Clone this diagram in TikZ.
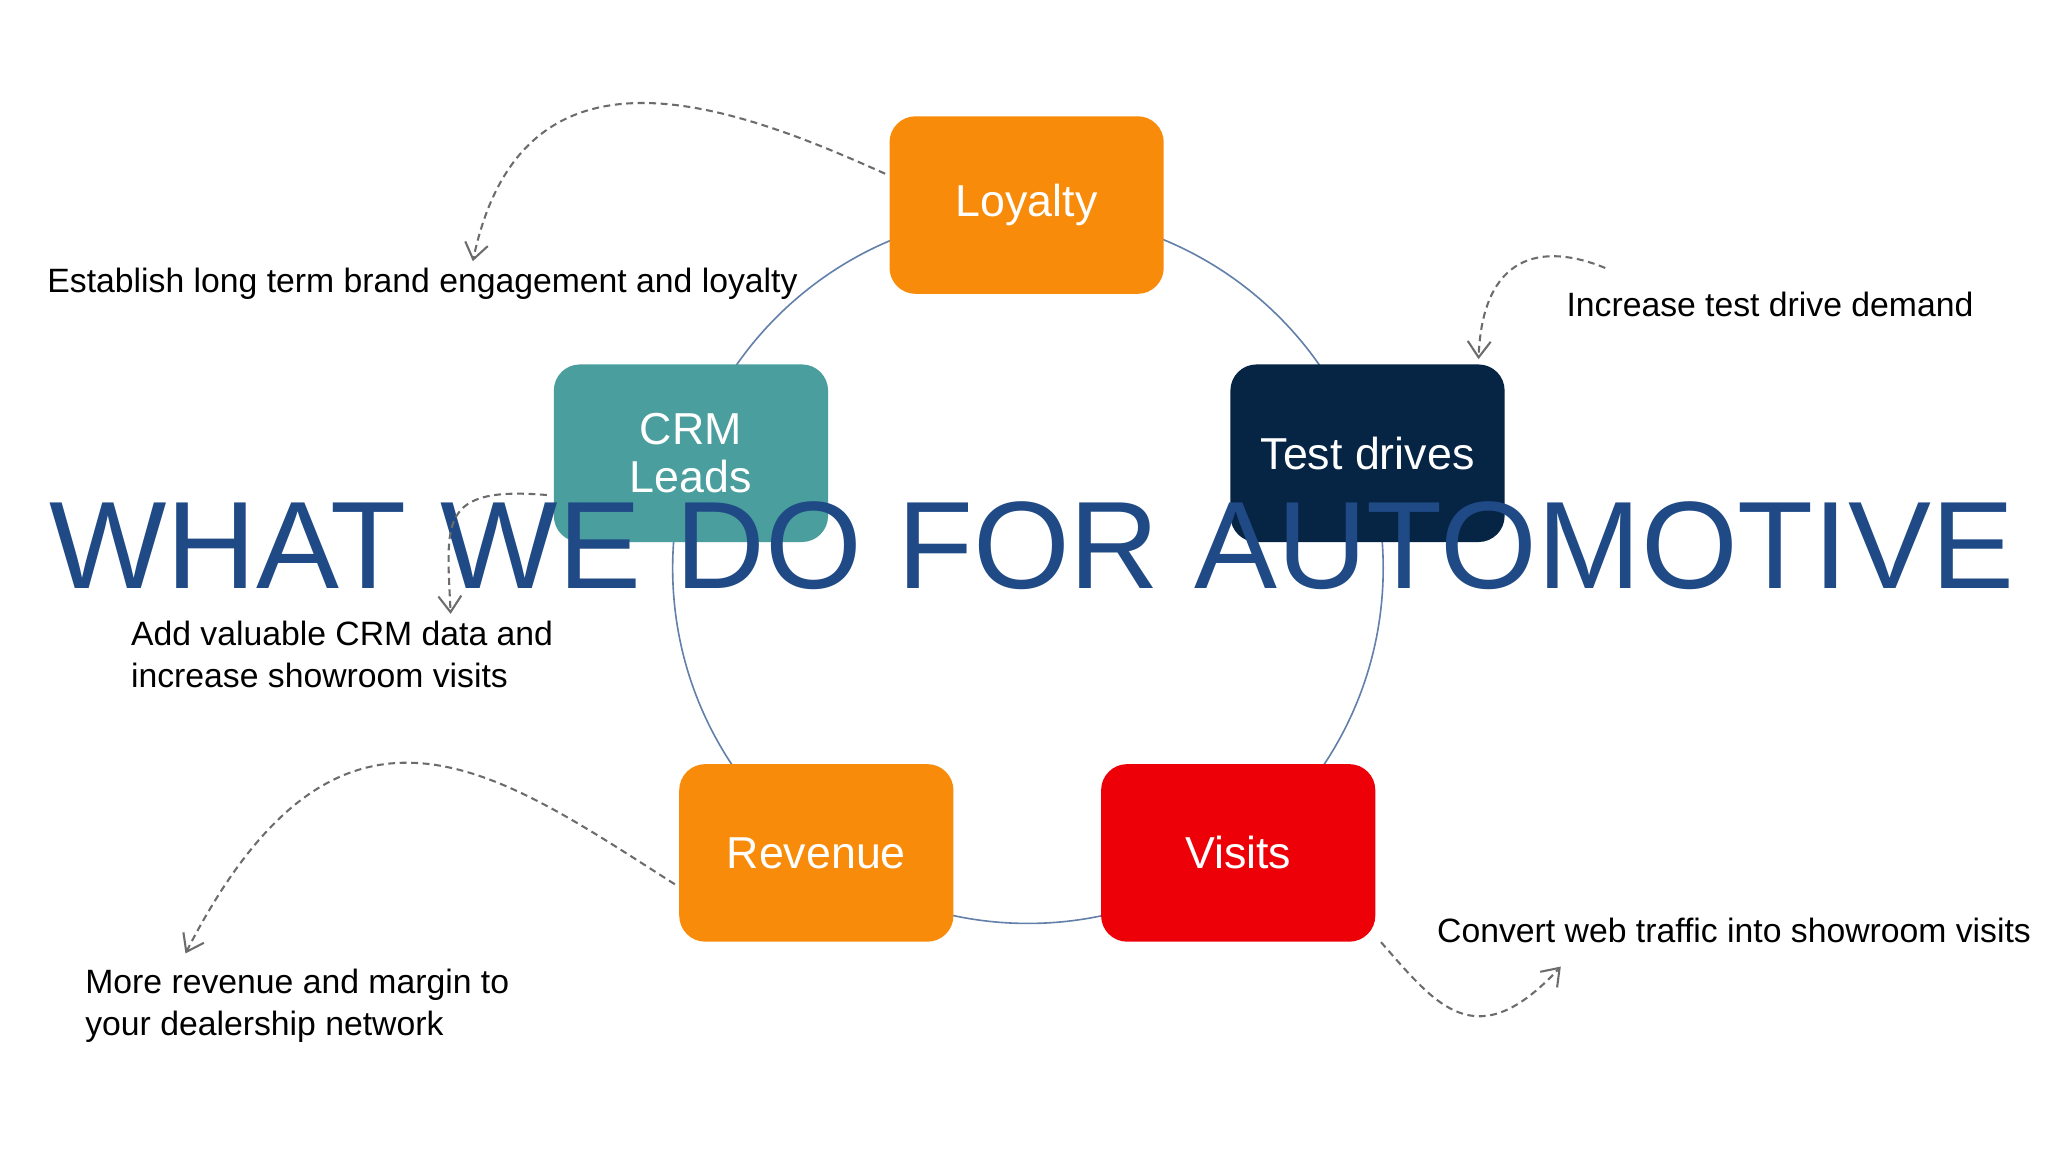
\documentclass[tikz,border=0pt]{standalone}
\usepackage{fontspec}
\setmainfont{Liberation Sans}
\usetikzlibrary{arrows.meta}
\definecolor{ora}{HTML}{F98B0B}
\definecolor{teal2}{HTML}{4A9E9E}
\definecolor{navy}{HTML}{062443}
\definecolor{red2}{HTML}{EE0008}
\definecolor{ttl}{HTML}{1F4A86}
\begin{document}
\begin{tikzpicture}[x=0.02cm,y=-0.02cm,
  box/.style={rounded corners=0.4cm,minimum width=4.2cm,minimum height=2.72cm,text=white,font=\fontsize{19.5}{21}\selectfont,align=center,inner sep=0pt},
  lbl/.style={anchor=west,font=\fontsize{14.7}{18.3}\selectfont,align=left,inner sep=0pt},
  darr/.style={draw=gray!85!black,densely dashed,line width=0.9pt,-{Straight Barb[length=7pt,width=10pt]}}]
\useasboundingbox (0,0) rectangle (1568,882);
\fill[white] (0,0) rectangle (1568,882);
\draw[color=ttl!70,line width=0.7pt] (787,435) circle [radius=272];
\node[box,fill=ora] (loy) at (786,157) {Loyalty};
\node[box,fill=teal2] (crm) at (529,347) {CRM\\Leads};
\node[box,fill=navy] (td) at (1047,347) {Test drives};
\node[box,fill=ora] (rev) at (625,653) {Revenue};
\node[box,fill=red2] (vis) at (948,653) {Visits};
\node[text=ttl,font=\fontsize{54.2}{60}\selectfont,inner sep=0pt] (title) at (790,418) {WHAT WE DO FOR AUTOMOTIVE};
\node[lbl] (t1) at (36,217) {Establish long term brand engagement and loyalty};
\node[lbl] (t2) at (1199,233) {Increase test drive demand};
\node[lbl] (t3) at (100,501) {Add valuable CRM data and\\increase showroom visits};
\node[lbl] (t4) at (65,770) {More revenue and margin to\\your dealership network};
\node[lbl] (t5) at (1100,712) {Convert web traffic into showroom visits};
\coordinate (a1) at (362,200);
\coordinate (a2) at (1132,275);
\coordinate (a3) at (345,470);
\coordinate (a4) at (142,730);
\coordinate (a5) at (1195,740);
\draw[darr] ([shift={(-3,-24)}]loy.west) .. controls (560,80) and (400,20) .. (a1);
\draw[darr] ([shift={(30,-18)}]t2.north west) .. controls (1180,185) and (1135,195) .. (a2);
\draw[darr] ([shift={(-5,32)}]crm.west) .. controls (335,372) and (342,400) .. (a3);
\draw[darr] ([shift={(-3,24)}]rev.west) .. controls (380,590) and (260,500) .. (a4);
\draw[darr] ([shift={(4,0)}]vis.south east) .. controls (1100,770) and (1130,810) .. (a5);
\end{tikzpicture}
\end{document}
